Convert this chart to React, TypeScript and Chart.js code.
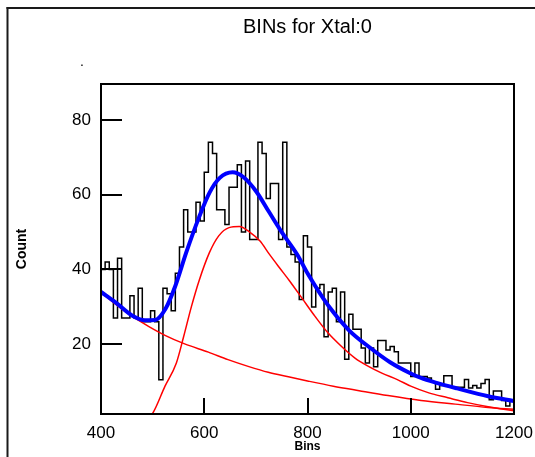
import { useEffect, useRef } from "react";
import { Chart, registerables } from "chart.js";

Chart.register(...registerables);

const titleText = "BINs for Xtal:0";
const xTitle = "Bins";
const yTitle = "Count";
const xTicks = [400, 600, 800, 1000, 1200];
const yTicks = [20, 40, 60, 80];
const xMin = 400;
const xMax = 1200;
const yMin = 1.36;
const yMax = 89.6;

// histogram: 100 bins of width 8 starting at 400
const binStart = 400;
const binWidth = 8;
const binCounts = [
  40, 42, 40, 27, 43, 27, 27, 33, 27, 35, 26, 26, 29, 26, 10.5, 35, 33.5, 29, 39, 46, 56, 50, 50, 58, 53, 66,
  74, 71, 56, 56, 52, 62, 62, 68, 50, 69, 48, 48, 74, 71, 59, 63, 63, 48, 74,
  46, 44, 42, 32, 49, 46, 30, 35, 36, 22, 34, 35, 26, 34, 16, 28, 24, 24, 19, 15, 19, 14, 21, 21, 18.5,
  19.4, 18, 15, 15, 15, 11.4, 15, 11.4, 11.4, 11, 10, 8, 9, 11.6, 11.6, 8.5, 8.5, 8.5, 10.6, 8.3, 9, 8.3, 9.5, 10.6, 5.2, 7.5, 7.5, 5, 3.5, 5,
];

// total fit (blue)
const totalFitX = [400, 430, 460, 485, 505, 525, 545, 565, 590, 610, 630, 655, 675, 700, 725, 750, 780, 800, 840, 880, 920, 960, 1000, 1020, 1050, 1090, 1150, 1200];
const totalFitY = [34, 31, 27.7, 26.4, 26.5, 29.5, 36, 44.5, 54, 60.5, 64.5, 66, 64.8, 61, 55.5, 50, 44, 39, 30.4, 23.8, 19.2, 15.2, 12.2, 11, 9.7, 8.2, 6.1, 4.8];

// peak component (red)
const peakX = [488, 500, 524, 546, 560, 575, 590, 610, 628, 648, 668, 688, 708, 726, 745, 765, 790, 815, 840, 866, 892, 918, 944, 975, 1000, 1035, 1072, 1110, 1150, 1200];
const peakY = [0, 1.5, 8.8, 15, 22, 30, 37, 44.5, 49, 51.2, 51.5, 50, 47.6, 44.1, 40.6, 37, 32.2, 27.4, 23, 19.4, 16.3, 14.1, 12.3, 10.5, 8.8, 7.0, 5.7, 4.4, 3.3, 2.2];

// background component (red)
const bgX = [400, 430, 460, 492, 524, 562, 608, 646, 685, 724, 763, 800, 850, 900, 956, 1020, 1086, 1150, 1200];
const bgY = [34, 30.5, 27.5, 24.8, 22.4, 20.1, 17.9, 15.9, 14.1, 12.5, 11.3, 10.2, 8.8, 7.6, 6.3, 5, 4, 3.1, 2.6];

const FONT = "'Liberation Sans', Arial, sans-serif";

const framePlugin = {
  id: "frameDecor",
  beforeDraw(chart: any) {
    const ctx = chart.ctx as CanvasRenderingContext2D;
    ctx.save();
    ctx.fillStyle = "#ffffff";
    ctx.fillRect(0, 0, chart.width, chart.height);
    ctx.fillStyle = "#1a1a1a";
    ctx.fillRect(6.5, 7, 2, chart.height);
    ctx.fillRect(6.5, 7, chart.width, 2);
    ctx.fillStyle = "#000";
    ctx.font = `14px ${FONT}`;
    ctx.textAlign = "center";
    ctx.textBaseline = "alphabetic";
    ctx.fillText(".", 82, 66);
    ctx.restore();
  },
  afterDatasetsDraw(chart: any) {
    const ctx = chart.ctx as CanvasRenderingContext2D;
    const a = chart.chartArea;
    const xs = chart.scales.x;
    const ys = chart.scales.y;
    ctx.save();
    ctx.strokeStyle = "#000";
    ctx.lineWidth = 2;
    ctx.strokeRect(a.left, a.top, a.right - a.left, a.bottom - a.top);
    ctx.beginPath();
    for (const v of yTicks) {
      const y = Math.round(ys.getPixelForValue(v));
      ctx.moveTo(a.left, y);
      ctx.lineTo(a.left + 21, y);
    }
    for (const v of xTicks) {
      if (v === xMin || v === xMax) continue;
      const x = Math.round(xs.getPixelForValue(v));
      ctx.moveTo(x, a.bottom);
      ctx.lineTo(x, a.bottom - 16);
    }
    ctx.stroke();
    ctx.restore();
  },
};

export default function App() {
  const canvasRef = useRef<HTMLCanvasElement | null>(null);

  useEffect(() => {
    const canvas = canvasRef.current;
    if (!canvas) return;

    const histPoints = binCounts.map((c, i) => ({ x: binStart + i * binWidth, y: c }));
    histPoints.push({ x: binStart + binCounts.length * binWidth, y: binCounts[binCounts.length - 1] });

    const chart = new Chart(canvas, {
      type: "line",
      data: {
        datasets: [
          {
            label: "Total fit",
            data: totalFitX.map((x, i) => ({ x, y: totalFitY[i] })),
            borderColor: "#0000ff",
            borderWidth: 4,
            pointRadius: 0,
            cubicInterpolationMode: "monotone",
            tension: 0.4,
            fill: false,
            order: 1,
          },
          {
            label: "Peak",
            data: peakX.map((x, i) => ({ x, y: peakY[i] })),
            borderColor: "#ff0000",
            borderWidth: 1.5,
            pointRadius: 0,
            cubicInterpolationMode: "monotone",
            tension: 0.4,
            fill: false,
            order: 2,
          },
          {
            label: "Background",
            data: bgX.map((x, i) => ({ x, y: bgY[i] })),
            borderColor: "#ff0000",
            borderWidth: 1.5,
            pointRadius: 0,
            cubicInterpolationMode: "monotone",
            tension: 0.4,
            fill: false,
            order: 3,
          },
          {
            label: "Counts",
            data: histPoints,
            borderColor: "#000000",
            borderWidth: 1.5,
            pointRadius: 0,
            stepped: "before",
            fill: false,
            order: 4,
          },
        ],
      } as any,
      options: {
        responsive: false,
        animation: false,
        devicePixelRatio: 1,
        events: [],
        layout: { padding: { top: 0, right: 21, bottom: 0, left: 0 } },
        plugins: {
          legend: { display: false },
          tooltip: { enabled: false },
          title: {
            display: true,
            text: titleText,
            fullSize: false,
            color: "#000",
            font: { family: FONT, size: 20, weight: "normal" },
            padding: { top: 15, bottom: 45 },
          },
        },
        scales: {
          x: {
            type: "linear",
            min: xMin,
            max: xMax,
            afterBuildTicks: (s: any) => {
              s.ticks = xTicks.map((v) => ({ value: v }));
            },
            afterFit: (s: any) => {
              s.height = 43;
              s.paddingLeft = 0;
              s.paddingRight = 0;
            },
            grid: { display: false, drawTicks: false },
            border: { display: false },
            ticks: {
              color: "#000",
              font: { family: FONT, size: 17 },
              padding: 9,
              maxRotation: 0,
              autoSkip: false,
              callback: (v: any) => String(v),
            },
            title: {
              display: true,
              text: xTitle,
              color: "#000",
              font: { family: FONT, size: 12, weight: "bold" },
              padding: { top: 0, bottom: 3 },
            },
          },
          y: {
            type: "linear",
            min: yMin,
            max: yMax,
            afterBuildTicks: (s: any) => {
              s.ticks = yTicks.map((v) => ({ value: v }));
            },
            afterFit: (s: any) => {
              s.width = 101;
              s.paddingTop = 0;
              s.paddingBottom = 0;
            },
            grid: { display: false, drawTicks: false },
            border: { display: false },
            ticks: {
              color: "#000",
              font: { family: FONT, size: 17 },
              padding: 10,
              autoSkip: false,
              callback: (v: any) => String(v),
            },
            title: {
              display: true,
              text: yTitle,
              color: "#000",
              font: { family: FONT, size: 14, weight: "bold" },
              padding: { top: 14, bottom: 0 },
            },
          },
        },
      } as any,
      plugins: [framePlugin],
    });

    return () => {
      chart.destroy();
    };
  }, []);

  return (
    <div style={{ position: "fixed", left: 0, top: 0, width: 535, height: 457, background: "#fff" }}>
      <canvas ref={canvasRef} width={535} height={457} style={{ display: "block" }} />
    </div>
  );
}
